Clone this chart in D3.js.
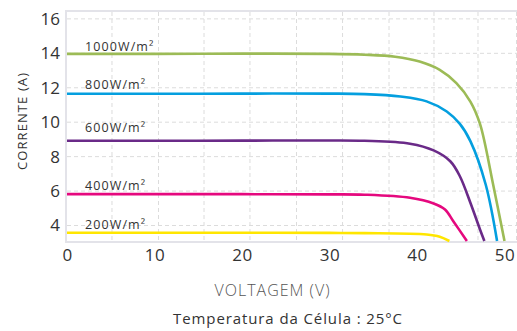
<!DOCTYPE html>
<meta charset="utf-8">
<style>
  body { margin: 0; background: #fff; }
  text { font-family: "Open Sans", sans-serif; fill: #333; }
  .grid line { stroke: #dcdcdc; stroke-width: 1px; stroke-dasharray: 4,3; }
  .frame { stroke: #e3e3e9; stroke-width: 2px; fill: none; }
  .curve { fill: none; stroke-width: 2.6px; stroke-linejoin: round; }
</style>
<body>
<script src="https://d3js.org/d3.v7.min.js"></script>
<script>
  // irradiance levels and their curves (voltage V, current A)
  var levels = ["1000W/m²", "800W/m²", "600W/m²", "400W/m²", "200W/m²"];
  var colors = ["#9cbb56", "#049fdf", "#6a2a88", "#e5087e", "#ffe600"];

  var curve1000 = [[0, 13.97], [10, 13.97], [20, 13.98], [30, 13.97], [34, 13.92], [37.5, 13.8],
    [40.3, 13.52], [42.6, 13.04], [44.5, 12.27], [46.1, 11.2], [47.2, 9.9],
    [48.7, 6.38], [50.0, 3.1]];
  var curve800 = [[0, 11.65], [10, 11.65], [20, 11.66], [30, 11.66], [34, 11.63], [38.1, 11.49],
    [41.1, 11.21], [43.4, 10.62], [44.9, 9.9], [46.1, 8.9],
    [47.85, 6.38], [49.15, 3.1]];
  var curve600 = [[0, 8.92], [10, 8.92], [20, 8.93], [30, 8.94], [34, 8.92], [39.2, 8.75],
    [41.9, 8.36], [43.8, 7.73], [44.9, 6.86], [46.1, 5.32], [47.2, 3.77], [47.7, 3.1]];
  var curve400 = [[0, 5.82], [10, 5.82], [20, 5.82], [30, 5.81], [34, 5.79], [39.2, 5.61],
    [41.9, 5.28], [43.2, 4.93], [44.15, 4.25], [45.7, 3.1]];
  var curve200 = [[0, 3.58], [10, 3.58], [20, 3.58], [30, 3.57], [34, 3.56], [41.1, 3.48],
    [42.6, 3.35], [43.7, 3.1]];
  var curves = [curve1000, curve800, curve600, curve400, curve200];

  // where each label sits (current value of its baseline)
  var labelAt = [14.16, 11.92, 9.45, 6.09, 3.77];

  var xTicks = [0, 10, 20, 30, 40, 50];
  var yTicks = [4, 6, 8, 10, 12, 14, 16];
  var gridV = [5.14, 10.46, 15.66, 20.91, 26.23, 31.49, 36.8, 41.94, 46.97, 51.37];

  var width = 517, height = 331;
  var plot = { left: 67, right: 517, top: 12, bottom: 241 };

  var svg = d3.select("body").append("svg")
    .attr("width", width)
    .attr("height", height);

  var x = d3.scaleLinear().domain([0, (plot.right - plot.left) / 8.75]).range([plot.left, plot.right]);
  var y = d3.scaleLinear().domain([3.1, 16.4]).range([plot.bottom, plot.top]);

  // dashed grid
  var grid = svg.append("g").attr("class", "grid");
  grid.selectAll(".gv").data(gridV).enter().append("line")
    .attr("x1", function(d) { return x(d); })
    .attr("x2", function(d) { return x(d); })
    .attr("y1", plot.top)
    .attr("y2", plot.bottom);
  grid.selectAll(".gh").data(yTicks).enter().append("line")
    .attr("x1", plot.left)
    .attr("x2", plot.right)
    .attr("y1", function(d) { return y(d); })
    .attr("y2", function(d) { return y(d); });

  // frame: left, top and bottom edges
  svg.append("path")
    .attr("class", "frame")
    .attr("d", "M" + plot.right + "," + (plot.top - 1) + "H" + (plot.left - 1) +
      "V" + (plot.bottom + 1) + "H" + plot.right);

  // curves
  var line = d3.line()
    .x(function(d) { return x(d[0]); })
    .y(function(d) { return y(d[1]); })
    .curve(d3.curveCatmullRom.alpha(0.5));

  svg.selectAll(".curve").data(curves).enter().append("path")
    .attr("class", "curve")
    .attr("d", line)
    .style("stroke", function(d, i) { return colors[i]; });

  // curve labels
  svg.selectAll(".lbl").data(levels).enter().append("text")
    .attr("x", x(2.06))
    .attr("y", function(d, i) { return y(labelAt[i]); })
    .style("font-size", "12.5px")
    .style("letter-spacing", "1.1px")
    .text(function(d) { return d; });

  // Y axis
  var yAxis = svg.append("g")
    .attr("transform", "translate(" + (plot.left - 7) + ",0)")
    .call(d3.axisLeft(y).tickValues(yTicks).tickSize(0).tickPadding(0));
  yAxis.select(".domain").remove();
  yAxis.selectAll("text")
    .style("font-size", "17px")
    .style("fill", "#333")
    .style("font-family", "'Open Sans', sans-serif");

  // X axis
  var xAxis = svg.append("g")
    .attr("transform", "translate(0," + (plot.bottom + 8) + ")")
    .call(d3.axisBottom(x).tickValues(xTicks).tickSize(0).tickPadding(0));
  xAxis.select(".domain").remove();
  xAxis.selectAll("text")
    .style("font-size", "17px")
    .style("fill", "#333")
    .style("letter-spacing", "0.5px")
    .style("font-family", "'Open Sans', sans-serif");

  // titles
  svg.append("text")
    .attr("transform", "translate(27,121) rotate(-90)")
    .attr("text-anchor", "middle")
    .style("font-size", "13px")
    .style("letter-spacing", "1.1px")
    .text("CORRENTE (A)");

  svg.append("text")
    .attr("x", 272.5)
    .attr("y", 296)
    .attr("text-anchor", "middle")
    .style("font-size", "16px")
    .style("font-weight", "300")
    .style("letter-spacing", "1px")
    .style("fill", "#555")
    .text("VOLTAGEM (V)");

  svg.append("text")
    .attr("x", 288)
    .attr("y", 324)
    .attr("text-anchor", "middle")
    .style("font-size", "15px")
    .style("letter-spacing", "0.9px")
    .text("Temperatura da Célula : 25°C");
</script>
</body>
